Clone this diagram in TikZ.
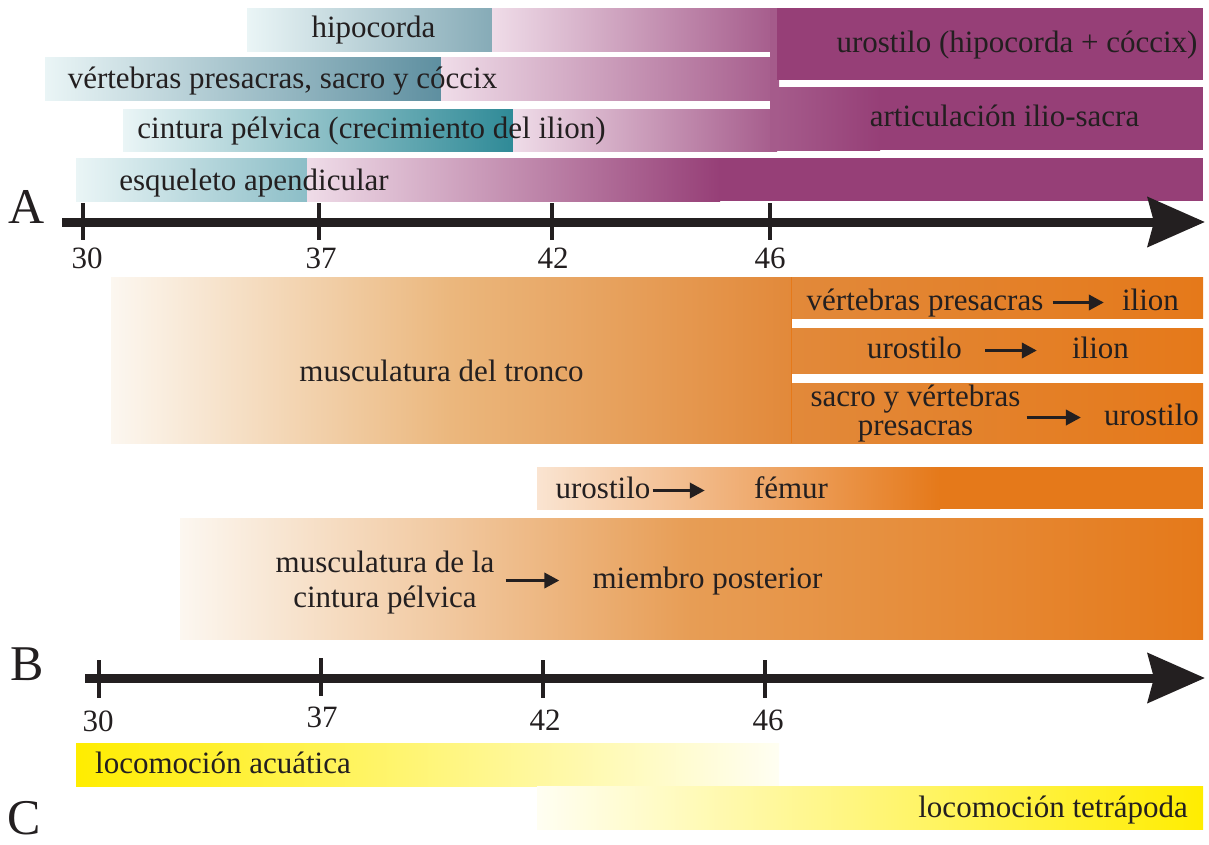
\documentclass[tikz,border=0pt]{standalone}
\usepackage{fontspec}
\setmainfont{Liberation Serif}
\usepackage{xcolor}
\usepackage{tikz}
\usetikzlibrary{positioning, arrows.meta}
\definecolor{inkDark}{HTML}{231F20}
\definecolor{tealLt}{HTML}{EAF5F6}
\definecolor{tealHipo}{HTML}{86ABB7}
\definecolor{tealVert}{HTML}{5E8FA0}
\definecolor{tealCint}{HTML}{2F8A97}
\definecolor{tealEsq}{HTML}{8CBEC7}
\definecolor{pinkLt}{HTML}{EFDCE8}
\definecolor{purpMid}{HTML}{A55B8B}
\definecolor{purp}{HTML}{963F77}
\definecolor{orgLt}{HTML}{FCF7F0}
\definecolor{orgMid}{HTML}{EBB77D}
\definecolor{orgMidB}{HTML}{E79D55}
\definecolor{org}{HTML}{E2893A}
\definecolor{orgDk}{HTML}{E5791A}
\definecolor{orgPeach}{HTML}{FAE4D1}
\definecolor{yel}{HTML}{FFED00}
\definecolor{yelLt}{HTML}{FFFEF2}
\newcommand{\barfont}{\fontsize{31}{33}\selectfont}
\newcommand{\panelfont}{\fontsize{50}{50}\selectfont}

\begin{document}
\begin{tikzpicture}[x=1pt, y=-1pt, lbl/.style={font=\barfont, inner sep=0pt, text height=22pt, text depth=7pt, text=inkDark}, lbltwo/.style={inner sep=0pt, align=center, text=inkDark}, num/.style={font=\barfont, inner sep=0pt, anchor=base, text=inkDark}, panel/.style={font=\panelfont, inner sep=0pt, anchor=base west, text=inkDark}, axis/.style={line width=9pt, color=inkDark, -{Stealth[length=57pt, width=49pt, inset=6pt]}}, tck/.style={line width=4pt, color=inkDark}, tarr/.style={line width=3.5pt, color=inkDark, -{Triangle[length=15pt, width=15pt]}}]
\useasboundingbox (0,0) rectangle (1209,844);
\shade[left color=tealLt, right color=tealHipo] (247,8) rectangle (492,51); \shade[left color=pinkLt, right color=purpMid] (492,8) rectangle (777,51);
\shade[left color=tealLt, right color=tealVert] (45,57) rectangle (441,100); \shade[left color=pinkLt, right color=purpMid] (441,57) rectangle (779,100);
\shade[left color=tealLt, right color=tealCint] (123,109) rectangle (513,151); \shade[left color=pinkLt, right color=purpMid] (513,109) rectangle (777,151);
\fill[purpMid] (770,8) rectangle (777,151);
\fill[purp] (777,8) rectangle (1203,80);
\shade[left color=purpMid, right color=purp] (777,87) rectangle (880,150); \fill[purp] (880,87) rectangle (1203,150);
\shade[left color=tealLt, right color=tealEsq] (76,158) rectangle (307,201); \shade[left color=pinkLt, right color=purp] (307,158) rectangle (720,201); \fill[purp] (720,158) rectangle (1203,201);
\node[lbl] (hipo) at (373.5,29.5) {hipocorda};
\node[lbl] (vert) at (282.5,80.5) {vértebras presacras, sacro y cóccix};
\node[lbl] (cint) at (371.5,130.5) {cintura pélvica (crecimiento del ilion)};
\node[lbl] (esq) at (254,182.5) {esqueleto apendicular};
\node[lbl] (uros) at (1017,44.5) {urostilo (hipocorda + cóccix)};
\node[lbl] (artic) at (1004.5,118.5) {articulación ilio-sacra};
\node[panel] (pA) at (8,223) {A};
\coordinate (aL) at (62,222); \coordinate (aR) at (1205,222); \draw[axis] (aL) -- (aR);
\draw[tck] (83,203) -- (83,240); \draw[tck] (319,203) -- (319,240); \draw[tck] (552,203) -- (552,240); \draw[tck] (770,203) -- (770,240);
\node[num] (a30) at (87,268) {30}; \node[num] (a37) at (321,268) {37}; \node[num] (a42) at (553,268) {42}; \node[num] (a46) at (770,268) {46};
\shade[left color=orgLt, right color=org, middle color=orgMid] (111,277) rectangle (791,443);
\shade[left color=org, right color=orgDk] (791,277) rectangle (1203,318); \shade[left color=org, right color=orgDk] (791,328) rectangle (1203,373); \shade[left color=org, right color=orgDk] (791,383) rectangle (1203,443);
\draw[orgDk, line width=1pt] (791,277) -- (791,443);
\node[lbl] (tronco) at (441.5,373.5) {musculatura del tronco};
\node[lbl] (vpA) at (925,302.5) {vértebras presacras}; \node[lbl] (ilA) at (1150.5,302.5) {ilion};
\draw[tarr, shorten <=9pt, shorten >=18pt] (vpA) -- (ilA);
\node[lbl] (urB) at (914.5,350.5) {urostilo}; \node[lbl] (ilB) at (1100.5,350.5) {ilion};
\draw[tarr, shorten <=23pt, shorten >=35pt] (urB) -- (ilB);
\node[lbltwo, font={\fontsize{31}{29}\selectfont}] (sacC) at (915.5,414) {sacro y vértebras\\presacras}; \node[lbl] (urC) at (1151.5,417.5) {urostilo};
\draw[tarr, shorten <=6pt, shorten >=23pt] (sacC.east |- urC.west) -- (urC.west);
\shade[left color=orgPeach, right color=orgDk] (537,467) rectangle (940,509); \fill[orgDk] (940,467) rectangle (1203,509);
\node[lbl] (urF) at (603,490.5) {urostilo}; \node[lbl] (fem) at (791,490.5) {fémur};
\draw[tarr, shorten <=2pt, shorten >=49pt] (urF) -- (fem);
\shade[left color=orgLt, right color=orgDk, middle color=orgMidB] (180,518) rectangle (1203,639);
\node[lbltwo, font={\fontsize{31}{35}\selectfont}] (musP) at (385,583) {musculatura de la\\cintura pélvica}; \node[lbl] (miem) at (707.5,580.5) {miembro posterior};
\draw[tarr, shorten <=11pt, shorten >=33pt] (musP.east |- miem.west) -- (miem.west);
\node[panel] (pB) at (10,680) {B};
\coordinate (bL) at (85,678); \coordinate (bR) at (1205,678); \draw[axis] (bL) -- (bR);
\draw[tck] (99,660) -- (99,698); \draw[tck] (321,658) -- (321,696); \draw[tck] (543,660) -- (543,698); \draw[tck] (765,660) -- (765,698);
\node[num] (b30) at (98,731) {30}; \node[num] (b37) at (322,727) {37}; \node[num] (b42) at (545,730) {42}; \node[num] (b46) at (768,730) {46};
\shade[left color=yel, right color=yelLt] (76,743) rectangle (779,786);
\shade[left color=yelLt, right color=yel] (537,786) rectangle (1203,829);
\node[lbl, anchor=west] (acua) at (95,765.5) {locomoción acuática};
\node[lbl, anchor=east] (tetra) at (1188,810) {locomoción tetrápoda};
\node[panel] (pC) at (7,834) {C};
\end{tikzpicture}
\end{document}
